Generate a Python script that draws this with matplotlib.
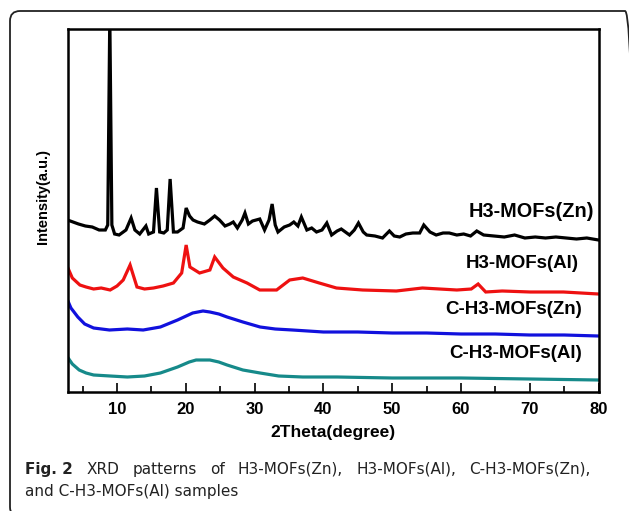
import matplotlib
matplotlib.use('Agg')
import matplotlib.pyplot as plt
from matplotlib.patches import FancyBboxPatch
from matplotlib.transforms import IdentityTransform
from matplotlib.ticker import MultipleLocator

# 2theta (degree) / intensity (a.u.)
zn_x = [2.8, 4.4, 5.4, 6.4, 7.4, 8.3, 8.65, 8.95, 9.25, 9.65, 10.3, 11.3, 12.05, 12.6, 13.3,
        14.2, 14.6, 15.3, 15.73, 16.2, 16.8, 17.3, 17.72, 18.2, 18.8, 19.6, 20.05, 20.55,
        21.05, 21.7, 22.7, 23.5, 24.2, 24.9, 25.7, 26.4, 26.9, 27.5, 28.2, 28.6, 29.1, 29.7,
        30.75, 31.45, 32.1, 32.55, 33.0, 33.4, 34.3, 35.1, 35.7, 36.3, 36.8, 37.6, 38.3,
        39.0, 39.8, 40.5, 41.2, 42.0, 42.6, 43.8, 44.5, 45.1, 45.8, 46.3, 47.5, 48.6, 49.6,
        50.3, 51.1, 52.0, 53.0, 54.0, 54.6, 55.5, 56.4, 57.4, 58.3, 59.4, 60.4, 61.4, 62.3,
        63.3, 64.8, 66.3, 67.8, 69.3, 70.8, 72.3, 73.8, 75.3, 76.8, 78.3, 80.0]
zn_y = [190, 186, 184, 183, 180, 180, 185, 395, 185, 176, 175, 180, 192, 180, 176,
        184, 176, 178, 222, 178, 177, 180, 231, 178, 178, 182, 202, 194,
        190, 188, 186, 190, 194, 190, 184, 186, 188, 182, 190, 197, 186, 189,
        191, 180, 190, 206, 185, 178, 183, 185, 188, 184, 193, 180, 182,
        178, 180, 187, 175, 179, 181, 175, 180, 187, 178, 175, 174, 172, 179,
        174, 173, 176, 177, 177, 185, 178, 175, 177, 177, 175, 176, 174, 179,
        175, 174, 173, 175, 172, 173, 172, 173, 172, 171, 172, 170]

al_x = [2.8, 3.5, 4.6, 5.5, 6.6, 7.7, 9.0, 10.0, 10.9, 11.9, 12.9, 14.0, 15.3, 16.7, 18.2,
        19.4, 20.05, 20.6, 22.0, 23.5, 24.2, 25.4, 26.9, 28.9, 30.75, 33.2, 35.1, 37.0,
        39.4, 41.9, 45.7, 50.6, 54.4, 59.4, 61.5, 62.5, 63.6, 66.0, 70.1, 74.9, 80.0]
al_y = [143, 132, 125, 123, 121, 122, 120, 124, 130, 145, 123, 121, 122, 124, 127,
        137, 165, 143, 137, 140, 153, 142, 133, 127, 120, 120, 130, 132,
        127, 122, 120, 119, 122, 120, 121, 126, 118, 119, 118, 118, 116]

czn_x = [2.8, 3.3, 4.3, 5.3, 6.6, 8.9, 11.5, 13.8, 16.3, 18.8, 21.0, 22.5, 23.5, 24.8,
         26.0, 28.3, 30.8, 33.0, 35.5, 40.0, 45.0, 50.0, 55.0, 60.0, 65.0, 70.0, 75.0, 80.0]
czn_y = [110, 102, 93, 86, 82, 80, 81, 80, 83, 90, 97, 99, 98, 96,
         93, 88, 83, 81, 80, 78, 78, 77, 77, 76, 76, 75, 75, 74]

cal_x = [2.8, 3.5, 4.5, 5.5, 6.6, 9.0, 11.5, 14.0, 16.3, 18.8, 20.5, 21.5, 23.5, 24.8,
         26.0, 28.3, 30.8, 33.5, 37.0, 42.0, 50.0, 60.0, 70.0, 80.0]
cal_y = [53, 46, 40, 37, 35, 34, 33, 34, 37, 43, 48, 50, 50, 48,
         45, 40, 37, 34, 33, 33, 32, 32, 31, 30]

labels = ['H3-MOFs(Zn)', 'H3-MOFs(Al)', 'C-H3-MOFs(Zn)', 'C-H3-MOFs(Al)']
label_pos = [(79.4, 199), (77.1, 147), (77.6, 100), (77.6, 56)]
colors = ['#000000', '#ee1111', '#1111dd', '#168a8a']

W, H = 629, 511
fig = plt.figure(figsize=(W / 100, H / 100), dpi=100)

# rounded frame around figure + caption
box = FancyBboxPatch((10, -6), 625, 506, boxstyle='round,pad=0,rounding_size=10',
                     transform=IdentityTransform(), fill=False, lw=1.3, ec='#222222')
fig.patches.append(box)

ax = fig.add_axes([67.5 / W, 1 - 392 / H, 531 / W, 363 / H])
for xs, ys, c in zip([zn_x, al_x, czn_x, cal_x], [zn_y, al_y, czn_y, cal_y], colors):
    ax.plot(xs, ys, color=c, lw=2.3, solid_joinstyle='miter')
for lab, (lx, ly) in zip(labels, label_pos):
    fs = 14.3 if lab == 'H3-MOFs(Zn)' else 13.5
    ax.text(lx, ly, lab, ha='right', va='center', fontsize=fs, fontweight='bold',
            family='Liberation Sans')

ax.set_xlim(2.8, 80)
ax.set_ylim(18, 381)
ax.set_yticks([])
ax.xaxis.set_major_locator(MultipleLocator(10))
ax.xaxis.set_minor_locator(MultipleLocator(5))
ax.tick_params(axis='x', which='major', direction='in', length=6.5, width=1.2, pad=7)
ax.tick_params(axis='x', which='minor', direction='in', length=4.3, width=1.2)
for lab in ax.get_xticklabels():
    lab.set_fontweight('bold')
    lab.set_fontsize(12)
    lab.set_family('Liberation Sans')
for s in ax.spines.values():
    s.set_linewidth(1.8)

fig.text(333 / W, 1 - 432 / H, '2Theta(degree)', ha='center', va='center', fontsize=12.5,
         fontweight='bold', family='Liberation Sans')
fig.text(43 / W, 1 - 197 / H, 'Intensity(a.u.)', ha='center', va='center', rotation=90,
         fontsize=10.5, fontweight='bold', family='Liberation Sans')

# caption, first line justified to the box width
fig.canvas.draw()
r = fig.canvas.get_renderer()
cap_kw = dict(va='baseline', fontsize=11, family='DejaVu Sans', color='#222222')
words = ['Fig. 2', 'XRD', 'patterns', 'of', 'H3-MOFs(Zn),', 'H3-MOFs(Al),',
         'C-H3-MOFs(Zn),']
bold = [True] + [False] * 6
x0, x1 = 25, 591
texts = []
for w, b in zip(words, bold):
    t = fig.text(0, 1 - 474 / H, w, fontweight='bold' if b else 'normal', **cap_kw)
    texts.append(t)
widths = [t.get_window_extent(r).width for t in texts]
gap = (x1 - x0 - sum(widths)) / (len(words) - 1)
x = x0
for t, wd in zip(texts, widths):
    t.set_x(x / W)
    x += wd + gap
fig.text(25 / W, 1 - 496 / H, 'and C-H3-MOFs(Al) samples', ha='left', **cap_kw)

fig.savefig('out.png', dpi=100)
